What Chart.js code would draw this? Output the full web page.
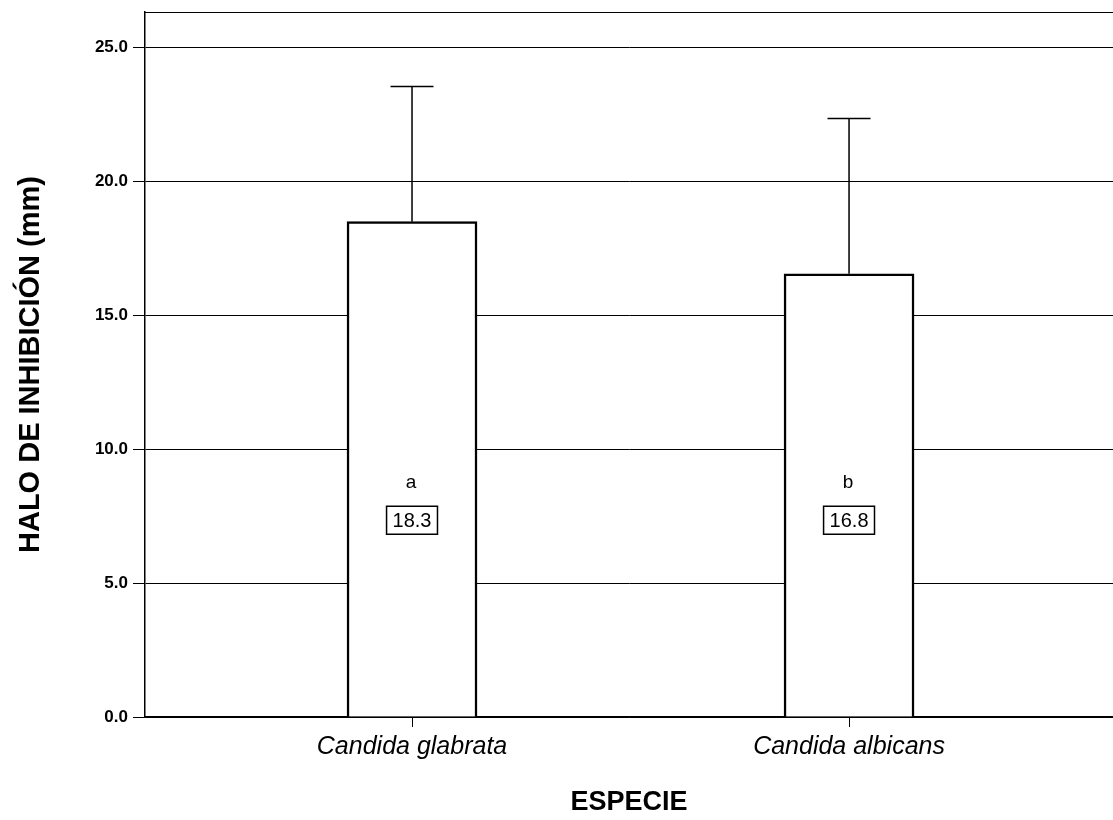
<!DOCTYPE html>
<html>
<head>
<meta charset="utf-8">
<script src="https://cdn.jsdelivr.net/npm/chart.js@4/dist/chart.umd.min.js"></script>
<style>
  html, body { margin: 0; padding: 0; background: #fff; }
  #wrap { width: 1113px; height: 820px; position: relative; }
</style>
</head>
<body>
<div id="wrap"><canvas id="c" width="1113" height="820"></canvas></div>
<script>
// ---- data ----
const categories = ['Candida glabrata', 'Candida albicans'];
const categoryPositions = [1, 2];
const means = [18.5, 16.55];
const errorTops = [23.55, 22.35];
const groupLetters = ['a', 'b'];
const valueLabels = ['18.3', '16.8'];
const yTickValues = [0, 5, 10, 15, 20, 25];

const FONT = "'Liberation Sans', Arial, Helvetica, sans-serif";

const errorBarPlugin = {
  id: 'errorBars',
  afterDatasetsDraw(chart) {
    const ctx = chart.ctx;
    const y = chart.scales.y;
    const meta = chart.getDatasetMeta(0);
    ctx.save();
    ctx.strokeStyle = '#000';
    meta.data.forEach((bar, i) => {
      const yTop = y.getPixelForValue(errorTops[i]);
      ctx.lineWidth = 1.5;
      ctx.beginPath();
      ctx.moveTo(bar.x, bar.y);
      ctx.lineTo(bar.x, yTop);
      ctx.moveTo(bar.x - 21.5, yTop);
      ctx.lineTo(bar.x + 21.5, yTop);
      ctx.stroke();

      // group letter
      ctx.fillStyle = '#000';
      ctx.font = '19px ' + FONT;
      ctx.textAlign = 'center';
      ctx.textBaseline = 'middle';
      const ly = y.getPixelForValue(8.75);
      ctx.fillText(groupLetters[i], bar.x - 1, ly);

      // boxed value label
      const by = y.getPixelForValue(7.35);
      ctx.font = '20px ' + FONT;
      const w = ctx.measureText(valueLabels[i]).width + 12;
      const h = 28;
      ctx.lineWidth = 1.5;
      ctx.beginPath();
      ctx.rect(bar.x - w / 2, by - h / 2, w, h);
      ctx.stroke();
      ctx.fillText(valueLabels[i], bar.x, by + 1);
    });
    ctx.restore();
  }
};

const frameTopPlugin = {
  id: 'frameTop',
  afterDraw(chart) {
    const {ctx, chartArea} = chart;
    ctx.save();
    ctx.strokeStyle = '#000';
    ctx.lineWidth = 1;
    ctx.beginPath();
    ctx.moveTo(chartArea.left, chartArea.top + 0.5);
    ctx.lineTo(chartArea.right, chartArea.top + 0.5);
    ctx.stroke();
    ctx.restore();
  }
};

new Chart(document.getElementById('c'), {
  type: 'bar',
  data: {
    datasets: [{
      data: categoryPositions.map((x, i) => ({ x: x, y: means[i] })),
      backgroundColor: '#fff',
      borderColor: '#000',
      borderWidth: 2.5,
      borderSkipped: 'start',
      barThickness: 130
    }]
  },
  options: {
    responsive: false,
    animation: false,
    devicePixelRatio: 1,
    layout: { padding: { top: 12, right: 0, bottom: 0, left: 0 } },
    plugins: {
      legend: { display: false },
      tooltip: { enabled: false }
    },
    scales: {
      x: {
        type: 'linear',
        offset: false,
        min: 0.389,
        max: 2.604,
        afterFit(scale) { scale.height = 103; scale.paddingLeft = 0; scale.paddingRight = 0; },
        afterBuildTicks(scale) {
          scale.ticks = categoryPositions.map(v => ({ value: v }));
        },
        ticks: {
          color: '#000',
          padding: 5,
          font: { family: FONT, size: 25, style: 'italic' },
          callback: (v) => {
            const i = categoryPositions.indexOf(v);
            return i >= 0 ? categories[i] : '';
          }
        },
        grid: {
          offset: false,
          drawOnChartArea: false,
          drawTicks: true,
          tickLength: 10,
          color: '#000',
          lineWidth: 1
        },
        border: { display: true, color: '#000', width: 1.5 },
        title: {
          display: true,
          text: 'ESPECIE',
          color: '#000',
          font: { family: FONT, size: 27, weight: 'bold' },
          padding: { top: 24, bottom: 1 }
        }
      },
      y: {
        min: 0,
        max: 26.33,
        afterFit(scale) { scale.width = 145; scale.paddingTop = 0; scale.paddingBottom = 0; },
        afterBuildTicks(scale) {
          scale.ticks = yTickValues.map(v => ({ value: v }));
        },
        ticks: {
          color: '#000',
          padding: 5,
          font: { family: FONT, size: 17, weight: 'bold' },
          callback: (v) => Number(v).toFixed(1)
        },
        grid: {
          color: '#000',
          lineWidth: 1,
          tickLength: 12,
          drawTicks: true
        },
        border: { display: true, color: '#000', width: 1.5 },
        title: {
          display: true,
          text: 'HALO DE INHIBICIÓN (mm)',
          color: '#000',
          font: { family: FONT, size: 29, weight: 'bold' },
          padding: { top: 14, bottom: 0 }
        }
      }
    }
  },
  plugins: [errorBarPlugin, frameTopPlugin]
});
</script>
</body>
</html>
